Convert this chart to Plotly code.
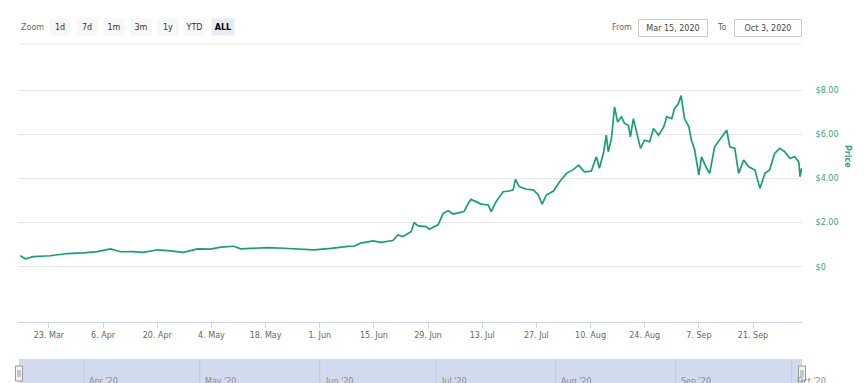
import plotly.graph_objects as go

# ---------------- data ----------------
dates = [
    "2020-03-15 14:00", "2020-03-16 21:00", "2020-03-18 22:00", "2020-03-23 07:00",
    "2020-03-27 17:00", "2020-03-31 22:00", "2020-04-04 12:00", "2020-04-07 22:00",
    "2020-04-10 12:00", "2020-04-13 19:00", "2020-04-16 10:00", "2020-04-20 02:00",
    "2020-04-23 10:00", "2020-04-26 19:00", "2020-04-30 10:00", "2020-05-03 19:00",
    "2020-05-06 10:00", "2020-05-09 19:00", "2020-05-11 14:00", "2020-05-14 22:00",
    "2020-05-18 14:00", "2020-05-22 17:00", "2020-05-27 02:00", "2020-05-30 12:00",
    "2020-06-03 22:00", "2020-06-06 12:00", "2020-06-08 07:00", "2020-06-09 19:00",
    "2020-06-11 14:00", "2020-06-14 19:00", "2020-06-16 19:00", "2020-06-19 22:00",
    "2020-06-21 05:00", "2020-06-22 12:00", "2020-06-24 14:00", "2020-06-25 10:00",
    "2020-06-26 10:00", "2020-06-28 12:00", "2020-06-29 07:00", "2020-07-01 14:00",
    "2020-07-02 22:00", "2020-07-04 05:00", "2020-07-05 12:00", "2020-07-07 00:00",
    "2020-07-08 07:00", "2020-07-09 10:00", "2020-07-10 02:00", "2020-07-11 10:00",
    "2020-07-12 17:00", "2020-07-14 14:00", "2020-07-15 07:00", "2020-07-16 14:00",
    "2020-07-18 10:00", "2020-07-20 00:00", "2020-07-21 00:00", "2020-07-21 14:00",
    "2020-07-22 14:00", "2020-07-24 10:00", "2020-07-26 05:00", "2020-07-27 12:00",
    "2020-07-28 12:00", "2020-07-29 14:00", "2020-07-31 10:00", "2020-08-02 00:00",
    "2020-08-03 19:00", "2020-08-05 14:00", "2020-08-06 22:00", "2020-08-08 10:00",
    "2020-08-10 05:00", "2020-08-11 12:00", "2020-08-12 07:00", "2020-08-13 10:00",
    "2020-08-14 02:00", "2020-08-14 14:00", "2020-08-15 10:00", "2020-08-16 05:00",
    "2020-08-17 00:00", "2020-08-18 00:00", "2020-08-18 19:00", "2020-08-19 19:00",
    "2020-08-20 07:00", "2020-08-21 02:00", "2020-08-21 22:00", "2020-08-22 22:00",
    "2020-08-23 23:00", "2020-08-25 07:00", "2020-08-26 07:00", "2020-08-27 14:00",
    "2020-08-28 22:00", "2020-08-29 17:00", "2020-08-31 00:00", "2020-08-31 17:00",
    "2020-09-01 17:00", "2020-09-02 10:00", "2020-09-03 07:00", "2020-09-04 10:00",
    "2020-09-05 02:00", "2020-09-05 22:00", "2020-09-07 00:00", "2020-09-07 17:00",
    "2020-09-09 00:00", "2020-09-09 19:00", "2020-09-11 02:00", "2020-09-12 22:00",
    "2020-09-14 05:00", "2020-09-15 00:00", "2020-09-16 07:00", "2020-09-17 07:00",
    "2020-09-18 14:00", "2020-09-19 22:00", "2020-09-21 12:00", "2020-09-22 19:00",
    "2020-09-24 02:00", "2020-09-25 07:00", "2020-09-26 14:00", "2020-09-27 22:00",
    "2020-09-29 05:00", "2020-09-30 12:00", "2020-10-01 19:00", "2020-10-02 20:00",
    "2020-10-03 04:00", "2020-10-03 14:00",
]
prices = [
    0.50, 0.36, 0.46, 0.50,
    0.60, 0.63, 0.69, 0.81,
    0.68, 0.69, 0.65, 0.77,
    0.72, 0.65, 0.81, 0.80,
    0.89, 0.93, 0.81, 0.84,
    0.87, 0.84, 0.80, 0.77,
    0.83, 0.90, 0.92, 0.93,
    1.07, 1.17, 1.11, 1.19,
    1.44, 1.37, 1.59, 2.00,
    1.85, 1.82, 1.70, 1.90,
    2.42, 2.54, 2.39, 2.45,
    2.50, 2.88, 3.05, 2.95,
    2.84, 2.80, 2.50, 2.95,
    3.40, 3.43, 3.48, 3.96,
    3.63, 3.51, 3.48, 3.25,
    2.84, 3.25, 3.43, 3.85,
    4.23, 4.41, 4.60, 4.30,
    4.33, 4.98, 4.46, 5.21,
    5.96, 5.21, 5.81, 7.24,
    6.56, 6.79, 6.49, 6.41,
    5.88, 6.71, 6.04, 5.36,
    5.73, 5.66, 6.26, 5.96,
    6.33, 6.79, 6.71, 7.16,
    7.39, 7.75, 6.71, 6.35,
    5.73, 5.30, 4.15, 4.98,
    4.46, 4.23, 5.43, 5.88,
    6.19, 5.43, 5.36, 4.23,
    4.83, 4.53, 4.38, 3.55,
    4.23, 4.38, 5.13, 5.36,
    5.21, 4.91, 4.98, 4.75,
    4.08, 4.46,
]

x_tickvals = ["2020-03-23", "2020-04-06", "2020-04-20", "2020-05-04", "2020-05-18",
              "2020-06-01", "2020-06-15", "2020-06-29", "2020-07-13", "2020-07-27",
              "2020-08-10", "2020-08-24", "2020-09-07", "2020-09-21"]
x_ticktext = ["23. Mar", "6. Apr", "20. Apr", "4. May", "18. May", "1. Jun", "15. Jun",
              "29. Jun", "13. Jul", "27. Jul", "10. Aug", "24. Aug", "7. Sep", "21. Sep"]
y_tickvals = [0, 2, 4, 6, 8]
y_ticktext = ["$0", "$2.00", "$4.00", "$6.00", "$8.00"]

nav_months = ["2020-04-01", "2020-05-01", "2020-06-01", "2020-07-01",
              "2020-08-01", "2020-09-01", "2020-10-01"]
nav_labels = ["Apr '20", "May '20", "Jun '20", "Jul '20", "Aug '20", "Sep '20", "Oct '20"]

zoom_buttons = ["1d", "7d", "1m", "3m", "1y", "YTD", "ALL"]
from_date = "Mar 15, 2020"
to_date = "Oct 3, 2020"

x_range = ["2020-03-15 00:00", "2020-10-03 16:00"]
y_range = [-2.5, 9]

# ---------------- layout helpers ----------------
W, H = 865, 383
L, R, T, B = 18, 63, 68, 61
PW, PH = W - L - R, H - T - B


def px(x):
    return (x - L) / PW


def py(y):
    return (H - B - y) / PH


GREEN = "#1a9e78"
LABEL_GREEN = "#3c9f80"
FONT = "DejaVu Sans"

fig = go.Figure()
fig.add_trace(go.Scatter(
    x=dates, y=prices, mode="lines",
    line=dict(color=GREEN, width=1.7),
    hoverinfo="skip", showlegend=False,
))

shapes = []
annotations = []

# separator line under the zoom bar
shapes.append(dict(type="line", xref="paper", yref="paper",
                   x0=px(20), x1=px(801), y0=py(44), y1=py(44),
                   line=dict(color="#e6e6e6", width=1)))

# navigator mask
shapes.append(dict(type="rect", xref="paper", yref="paper",
                   x0=px(19), x1=px(802), y0=py(395), y1=py(359),
                   fillcolor="#d2dbee", line=dict(width=0), layer="above"))
for m in nav_months:
    shapes.append(dict(type="line", xref="x", yref="paper",
                       x0=m, x1=m, y0=py(395), y1=py(359),
                       line=dict(color="#bfc8dc", width=1), layer="above"))
# navigator handles
for hx in (19, 802):
    shapes.append(dict(type="rect", xref="paper", yref="paper",
                       x0=px(hx - 3.5), x1=px(hx + 3.5), y0=py(381), y1=py(366),
                       fillcolor="#f2f2f2", line=dict(color="#999999", width=1),
                       layer="above"))
    shapes.append(dict(type="line", xref="paper", yref="paper",
                       x0=px(hx - 1), x1=px(hx - 1), y0=py(377), y1=py(370),
                       line=dict(color="#999999", width=1), layer="above"))
    shapes.append(dict(type="line", xref="paper", yref="paper",
                       x0=px(hx + 1), x1=px(hx + 1), y0=py(377), y1=py(370),
                       line=dict(color="#999999", width=1), layer="above"))

for m, lab in zip(nav_months, nav_labels):
    annotations.append(dict(x=m, xref="x", y=py(381), yref="paper",
                            text=lab, showarrow=False, xanchor="left", yanchor="middle",
                            xshift=3, font=dict(family=FONT, size=8, color="#8a8a8a")))


def label(x, y, text, **kw):
    d = dict(x=px(x), y=py(y), xref="paper", yref="paper", text=text,
             showarrow=False, xanchor="center", yanchor="middle")
    d.update(kw)
    annotations.append(d)


# zoom label + buttons
label(32, 27, "Zoom", font=dict(family=FONT, size=8, color="#666666"))
btn_x = [60, 87, 114, 141, 168, 194, 223]
for lab, bx in zip(zoom_buttons, btn_x):
    active = lab == "ALL"
    label(bx, 26.5, "<b>%s</b>" % lab if active else lab,
          width=22 if active else 20, height=16, borderpad=0,
          bgcolor="#e6ebf5" if active else "#f7f7f7",
          font=dict(family=FONT, size=8, color="#000000" if active else "#333333"))

# date inputs
label(622, 27, "From", font=dict(family=FONT, size=8, color="#666666"))
label(673, 27.5, from_date, width=68, height=16, borderpad=0,
      bordercolor="#cccccc", borderwidth=1, bgcolor="#ffffff",
      font=dict(family=FONT, size=8, color="#444444"))
label(722, 27, "To", font=dict(family=FONT, size=8, color="#666666"))
label(768, 27.5, to_date, width=66, height=16, borderpad=0,
      bordercolor="#cccccc", borderwidth=1, bgcolor="#ffffff",
      font=dict(family=FONT, size=8, color="#444444"))

# axis title
label(848, 156, "<b>Price</b>", textangle=90,
      font=dict(family=FONT, size=8, color=LABEL_GREEN))

fig.update_layout(
    width=W, height=H,
    margin=dict(l=L, r=R, t=T, b=B, autoexpand=False),
    paper_bgcolor="white", plot_bgcolor="white",
    font=dict(family=FONT, size=8, color="#666666"),
    showlegend=False,
    xaxis=dict(type="date", range=x_range, tickvals=x_tickvals, ticktext=x_ticktext,
               showgrid=False, zeroline=False, showline=True, linecolor="#ccd6eb",
               linewidth=1, ticks="outside", ticklen=5, tickcolor="#ccd6eb",
               tickfont=dict(family=FONT, size=8, color="#666666"), fixedrange=True),
    yaxis=dict(side="right", range=y_range, tickvals=y_tickvals, ticktext=y_ticktext,
               showgrid=True, gridcolor="#e6e6e6", gridwidth=1, zeroline=False,
               showline=False, ticks="outside", ticklen=11, tickcolor="rgba(0,0,0,0)",
               tickfont=dict(family=FONT, size=8, color=LABEL_GREEN), fixedrange=True),
    shapes=shapes,
    annotations=annotations,
)

fig.write_html(
    "out.html",
    config={"displayModeBar": False},
    post_script="document.body.style.margin='0';document.body.style.overflow='hidden';",
)
